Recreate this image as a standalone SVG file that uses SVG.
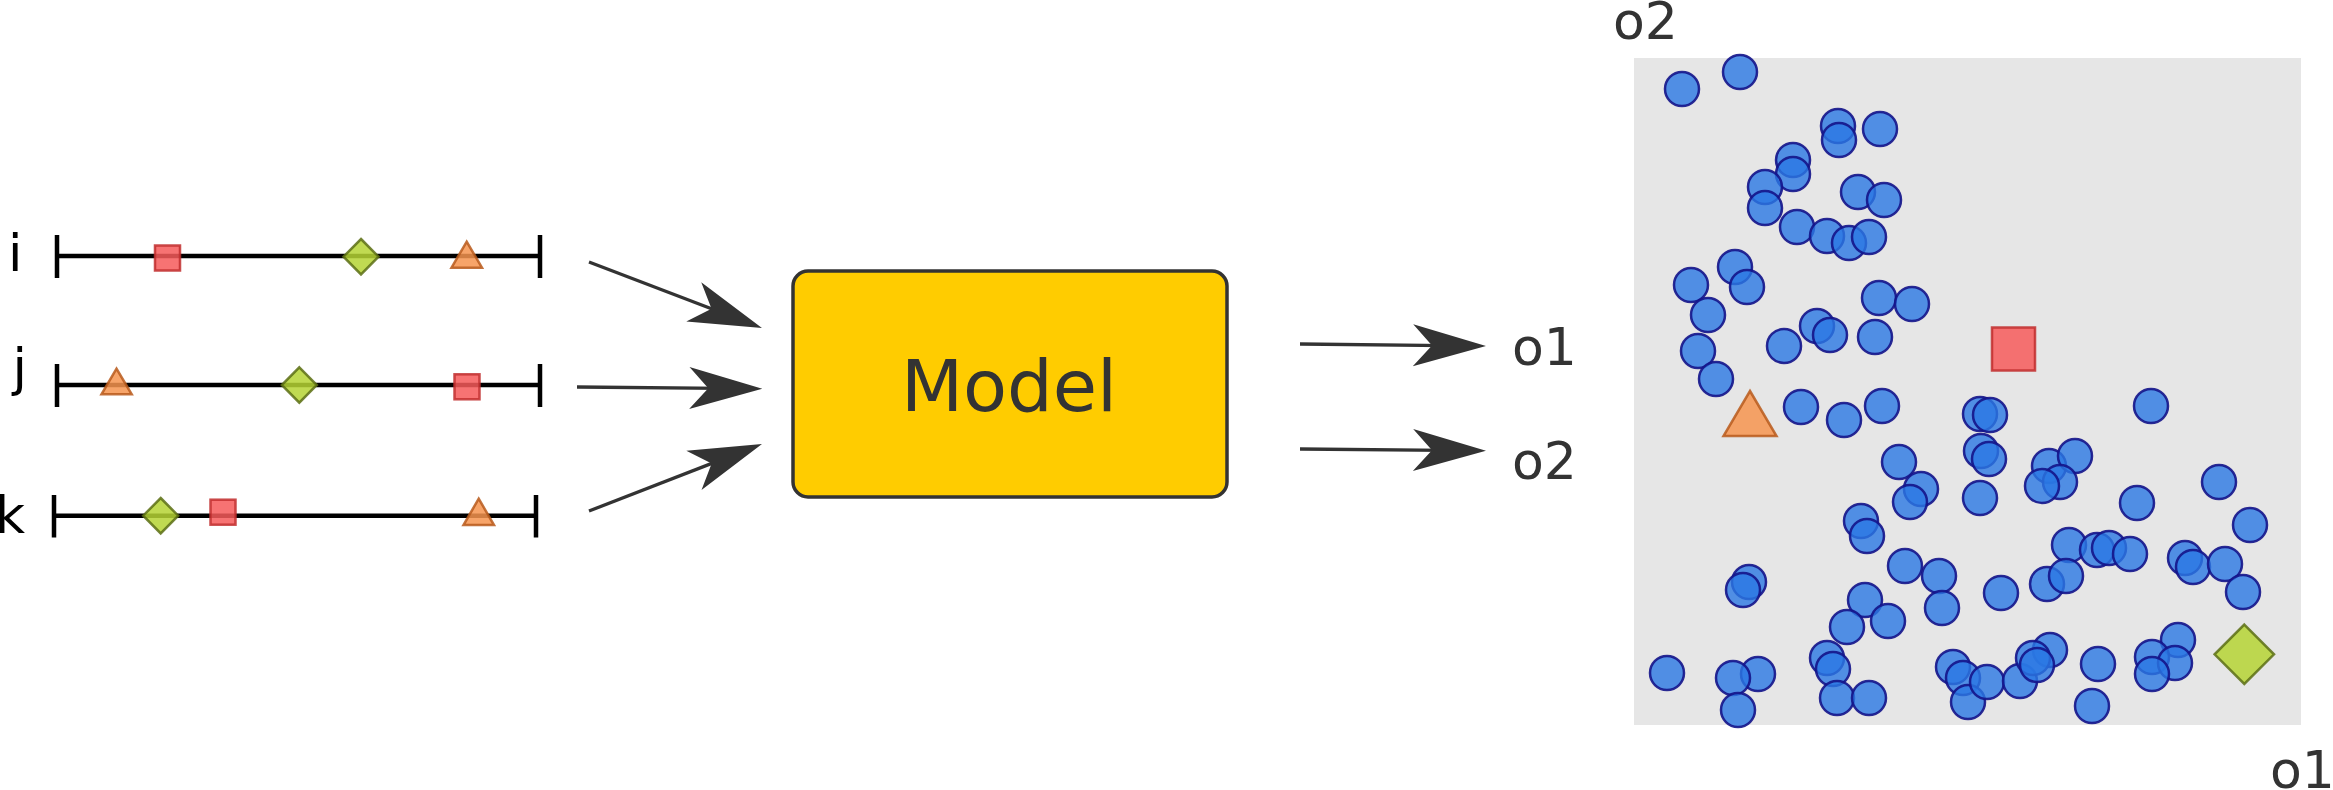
<svg xmlns="http://www.w3.org/2000/svg" width="2333" height="790" viewBox="0 0 2333 790">
  <style>
    .lbl { font-family: "DejaVu Sans", "Liberation Sans", sans-serif; font-size: 52px; }
    .dark { fill: #333333; }
    .black { fill: #000000; }
    .axis { stroke: #000000; stroke-width: 4.5; fill: none; }
    .sq { fill: #f65a5a; fill-opacity: 0.85; stroke: #c12e2e; stroke-opacity: 0.85; stroke-width: 2.5; }
    .tri { fill: #f6944f; fill-opacity: 0.85; stroke: #b85a1c; stroke-opacity: 0.85; stroke-width: 2.5; }
    .dia { fill: #b5d334; fill-opacity: 0.85; stroke: #5c6e15; stroke-opacity: 0.85; stroke-width: 2.5; }
    .edge { stroke: #333333; stroke-width: 3.3; fill: none; }
    .pt { fill: #2b78e4; fill-opacity: 0.8; stroke: #141489; stroke-opacity: 0.9; stroke-width: 2.5; }
  </style>
  <defs>
    <marker id="head" markerUnits="userSpaceOnUse" markerWidth="80" markerHeight="50"
            viewBox="-40 -25 80 50" refX="0" refY="0" orient="auto" overflow="visible">
      <path d="M40,0 L-33,-21 L-14,0 L-33,21 Z" fill="#333333"/>
    </marker>
  </defs>

  <!-- input ranges -->
  <g id="input-i">
    <text class="lbl black" x="8" y="271">i</text>
    <path class="axis" d="M57,256 H540 M57,235 V278 M540,235 V278"/>
    <rect class="sq" x="155" y="245.5" width="25" height="25"/>
    <polygon class="dia" points="361,239 378.5,256.7 361,274.4 343.5,256.7"/>
    <polygon class="tri" points="466.7,241.7 482,267.7 451.5,267.7"/>
  </g>
  <g id="input-j">
    <text class="lbl black" x="12.5" y="385">j</text>
    <path class="axis" d="M57,385 H540 M57,364 V407 M540,364 V407"/>
    <polygon class="tri" points="116.5,368.7 131.7,394.3 101.5,394.3"/>
    <polygon class="dia" points="299.3,367.3 316.8,385 299.3,402.7 281.8,385"/>
    <rect class="sq" x="454.5" y="374.3" width="25" height="25"/>
  </g>
  <g id="input-k">
    <text class="lbl black" x="-5" y="533">k</text>
    <path class="axis" d="M54,515.7 H536 M54,495 V537.5 M536,495 V537.5"/>
    <polygon class="dia" points="160.7,498 178.2,515.7 160.7,533.4 143.2,515.7"/>
    <rect class="sq" x="210.5" y="499.7" width="25" height="25"/>
    <polygon class="tri" points="478.7,498.7 494,525 463.5,525"/>
  </g>

  <!-- model -->
  <g id="model">
    <rect x="793" y="271" width="434" height="226" rx="15" ry="15" fill="#ffcc00" stroke="#333333" stroke-width="3.5"/>
    <text x="1009" y="410.5" text-anchor="middle" font-family="DejaVu Sans, Liberation Sans, sans-serif" font-size="72" fill="#333333">Model</text>
  </g>

  <!-- output labels -->
  <g id="out-o1"><text class="lbl dark" x="1512" y="364.5">o1</text></g>
  <g id="out-o2"><text class="lbl dark" x="1512" y="479">o2</text></g>

  <!-- connectors -->
  <g id="connectors">
    <path class="edge" d="M589,262 L724.6,313.7" marker-end="url(#head)"/>
    <path class="edge" d="M577,387 L722.3,388.3" marker-end="url(#head)"/>
    <path class="edge" d="M589,511 L724.7,458.4" marker-end="url(#head)"/>
    <path class="edge" d="M1300,344 L1446,345.6" marker-end="url(#head)"/>
    <path class="edge" d="M1300,449 L1446,450.3" marker-end="url(#head)"/>
  </g>

  <!-- output space -->
  <g id="output-space">
    <rect x="1634" y="58" width="667" height="667" fill="#e6e6e6"/>
    <text class="lbl dark" x="1613" y="39">o2</text>
    <text class="lbl dark" x="2270" y="788">o1</text>
    <g id="samples">
      <circle class="pt" cx="1682" cy="89" r="17"/>
      <circle class="pt" cx="1740" cy="72" r="17"/>
      <circle class="pt" cx="1838" cy="126" r="17"/>
      <circle class="pt" cx="1839" cy="140" r="17"/>
      <circle class="pt" cx="1880" cy="129" r="17"/>
      <circle class="pt" cx="1793" cy="160" r="17"/>
      <circle class="pt" cx="1793" cy="174" r="17"/>
      <circle class="pt" cx="1765" cy="187" r="17"/>
      <circle class="pt" cx="1765" cy="208" r="17"/>
      <circle class="pt" cx="1797" cy="227" r="17"/>
      <circle class="pt" cx="1827" cy="236" r="17"/>
      <circle class="pt" cx="1849" cy="243" r="17"/>
      <circle class="pt" cx="1869" cy="237" r="17"/>
      <circle class="pt" cx="1858" cy="192" r="17"/>
      <circle class="pt" cx="1884" cy="200" r="17"/>
      <circle class="pt" cx="1735" cy="267" r="17"/>
      <circle class="pt" cx="1691" cy="285" r="17"/>
      <circle class="pt" cx="1747" cy="287" r="17"/>
      <circle class="pt" cx="1708" cy="315" r="17"/>
      <circle class="pt" cx="1698" cy="351" r="17"/>
      <circle class="pt" cx="1716" cy="379" r="17"/>
      <circle class="pt" cx="1784" cy="346" r="17"/>
      <circle class="pt" cx="1817" cy="326" r="17"/>
      <circle class="pt" cx="1830" cy="335" r="17"/>
      <circle class="pt" cx="1879" cy="298" r="17"/>
      <circle class="pt" cx="1912" cy="304" r="17"/>
      <circle class="pt" cx="1875" cy="337" r="17"/>
      <circle class="pt" cx="1801" cy="407" r="17"/>
      <circle class="pt" cx="1844" cy="420" r="17"/>
      <circle class="pt" cx="1882" cy="406" r="17"/>
      <circle class="pt" cx="1980" cy="414" r="17"/>
      <circle class="pt" cx="1990" cy="415" r="17"/>
      <circle class="pt" cx="2151" cy="406" r="17"/>
      <circle class="pt" cx="1899" cy="462" r="17"/>
      <circle class="pt" cx="1921" cy="489" r="17"/>
      <circle class="pt" cx="1910" cy="502" r="17"/>
      <circle class="pt" cx="1981" cy="451" r="17"/>
      <circle class="pt" cx="1989" cy="459" r="17"/>
      <circle class="pt" cx="1980" cy="498" r="17"/>
      <circle class="pt" cx="2049" cy="466" r="17"/>
      <circle class="pt" cx="2075" cy="456" r="17"/>
      <circle class="pt" cx="2060" cy="482" r="17"/>
      <circle class="pt" cx="2042" cy="486" r="17"/>
      <circle class="pt" cx="2219" cy="482" r="17"/>
      <circle class="pt" cx="2137" cy="503" r="17"/>
      <circle class="pt" cx="2250" cy="525" r="17"/>
      <circle class="pt" cx="1861" cy="521" r="17"/>
      <circle class="pt" cx="1867" cy="536" r="17"/>
      <circle class="pt" cx="1905" cy="566" r="17"/>
      <circle class="pt" cx="1939" cy="576" r="17"/>
      <circle class="pt" cx="1942" cy="608" r="17"/>
      <circle class="pt" cx="1749" cy="582" r="17"/>
      <circle class="pt" cx="1743" cy="590" r="17"/>
      <circle class="pt" cx="2069" cy="545" r="17"/>
      <circle class="pt" cx="2097" cy="550" r="17"/>
      <circle class="pt" cx="2109" cy="548" r="17"/>
      <circle class="pt" cx="2130" cy="554" r="17"/>
      <circle class="pt" cx="2185" cy="558" r="17"/>
      <circle class="pt" cx="2193" cy="567" r="17"/>
      <circle class="pt" cx="2225" cy="564" r="17"/>
      <circle class="pt" cx="2243" cy="592" r="17"/>
      <circle class="pt" cx="2047" cy="584" r="17"/>
      <circle class="pt" cx="2066" cy="576" r="17"/>
      <circle class="pt" cx="2001" cy="593" r="17"/>
      <circle class="pt" cx="1865" cy="600" r="17"/>
      <circle class="pt" cx="1888" cy="621" r="17"/>
      <circle class="pt" cx="1847" cy="627" r="17"/>
      <circle class="pt" cx="1827" cy="658" r="17"/>
      <circle class="pt" cx="1833" cy="669" r="17"/>
      <circle class="pt" cx="1837" cy="698" r="17"/>
      <circle class="pt" cx="1869" cy="698" r="17"/>
      <circle class="pt" cx="1667" cy="673" r="17"/>
      <circle class="pt" cx="1758" cy="674" r="17"/>
      <circle class="pt" cx="1733" cy="678" r="17"/>
      <circle class="pt" cx="1738" cy="710" r="17"/>
      <circle class="pt" cx="1953" cy="667" r="17"/>
      <circle class="pt" cx="1963" cy="678" r="17"/>
      <circle class="pt" cx="1968" cy="702" r="17"/>
      <circle class="pt" cx="1987" cy="682" r="17"/>
      <circle class="pt" cx="2020" cy="681" r="17"/>
      <circle class="pt" cx="2050" cy="650" r="17"/>
      <circle class="pt" cx="2033" cy="658" r="17"/>
      <circle class="pt" cx="2037" cy="665" r="17"/>
      <circle class="pt" cx="2098" cy="664" r="17"/>
      <circle class="pt" cx="2092" cy="706" r="17"/>
      <circle class="pt" cx="2178" cy="640" r="17"/>
      <circle class="pt" cx="2152" cy="657" r="17"/>
      <circle class="pt" cx="2175" cy="663" r="17"/>
      <circle class="pt" cx="2152" cy="674" r="17"/>
    </g>
    <rect class="sq" x="1992" y="327.5" width="43" height="43" stroke-width="3"/>
    <polygon class="tri" points="1750,391 1776.5,436 1723.5,436" stroke-width="3"/>
    <polygon class="dia" points="2244.3,624.6 2274,654.3 2244.3,684 2214.6,654.3" stroke-width="3"/>
  </g>
</svg>
